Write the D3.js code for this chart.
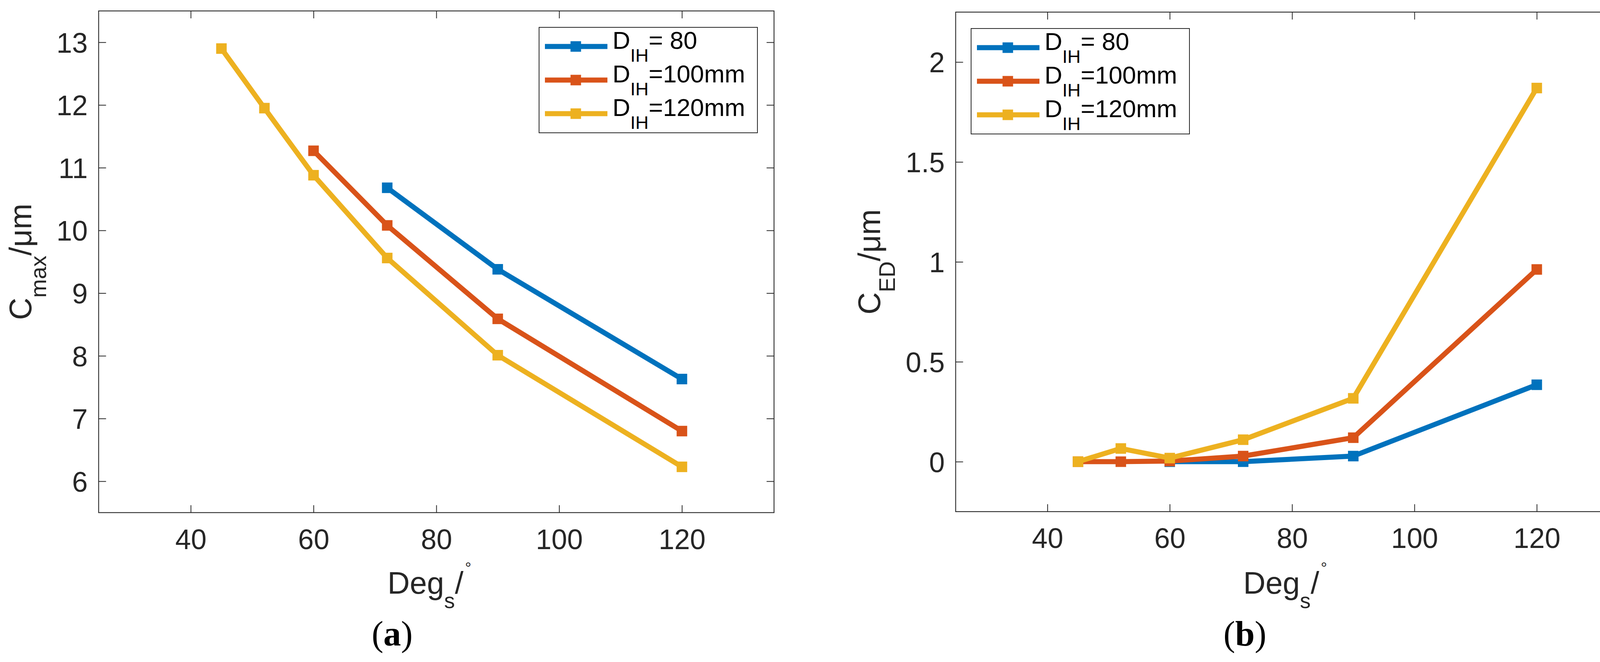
<!DOCTYPE html>
<html>
<head>
<meta charset="utf-8">
<script src="https://cdn.jsdelivr.net/npm/d3@7"></script>
<style>
  body { margin: 0; background: #fff; }
  text { font-family: "Liberation Sans", Arial, sans-serif; }
</style>
</head>
<body>
<svg id="fig" width="4201" height="1695"></svg>
<script>
// x ticks shared by both panels
var degTicks = [40, 60, 80, 100, 120];

// panel (a): C_max
var degBlueA = [72, 90, 120];
var cmaxBlue = [10.68, 9.38, 7.63];
var degOrangeA = [60, 72, 90, 120];
var cmaxOrange = [11.27, 10.08, 8.59, 6.80];
var degYellowA = [45, 52, 60, 72, 90, 120];
var cmaxYellow = [12.90, 11.95, 10.88, 9.56, 8.01, 6.23];
var cmaxTicks = [6, 7, 8, 9, 10, 11, 12, 13];

// panel (b): C_ED
var degBlueB = [60, 72, 90, 120];
var cedBlue = [0, 0, 0.028, 0.385];
var degOrangeB = [45, 52, 60, 72, 90, 120];
var cedOrange = [0, 0, 0.003, 0.028, 0.12, 0.962];
var degYellowB = [45, 52, 60, 72, 90, 120];
var cedYellow = [0, 0.066, 0.018, 0.11, 0.317, 1.87];
var cedTicks = [0, 0.5, 1, 1.5, 2];

var legendNames = ['= 80', '=100mm', '=120mm'];
var colors = ['#0072BD', '#D95319', '#EDB120'];

var svg = d3.select('#fig');
var axisColor = '#262626';
var tickLen = 19;

function panel(opt) {
    var g = svg.append('g');
    var x = d3.scaleLinear().domain([25, 135]).range([opt.left, opt.right]);
    var y = d3.scaleLinear().domain(opt.ydom).range([opt.bottom, opt.top]);

    // ticks, inward on all four sides (box on)
    var xBottom = d3.axisBottom(x).tickValues(degTicks).tickSize(-tickLen).tickFormat(d3.format('d'));
    var xTop = d3.axisTop(x).tickValues(degTicks).tickSize(-tickLen).tickFormat('');
    var yLeft = d3.axisLeft(y).tickValues(opt.yticks).tickSize(-tickLen).tickPadding(28)
        .tickFormat(function(d) { return String(d); });
    var yRight = d3.axisRight(y).tickValues(opt.yticks).tickSize(-tickLen).tickFormat('');

    var gxb = g.append('g').attr('transform', 'translate(0,' + opt.bottom + ')').call(xBottom);
    var gxt = g.append('g').attr('transform', 'translate(0,' + opt.top + ')').call(xTop);
    var gyl = g.append('g').attr('transform', 'translate(' + opt.left + ',0)').call(yLeft);
    var gyr = g.append('g').attr('transform', 'translate(' + opt.right + ',0)').call(yRight);

    [gxb, gxt, gyl, gyr].forEach(function(ag) {
        ag.select('.domain').remove();
        ag.selectAll('line').attr('stroke', axisColor).attr('stroke-width', 2);
        ag.selectAll('text').attr('fill', axisColor).style('font-size', '72px')
            .style('font-family', '"Liberation Sans", Arial, sans-serif');
    });
    gxb.selectAll('text').attr('dy', null).attr('y', 93);
    gyl.selectAll('text').attr('dy', '0.36em');

    g.append('rect')
        .attr('x', opt.left).attr('y', opt.top)
        .attr('width', opt.right - opt.left).attr('height', opt.bottom - opt.top)
        .attr('fill', 'none').attr('stroke', axisColor).attr('stroke-width', 2.2);

    var line = d3.line().x(function(d) { return x(d[0]); }).y(function(d) { return y(d[1]); });
    opt.series.forEach(function(s, i) {
        var pts = d3.zip(s.x, s.y);
        g.append('path').datum(pts)
            .attr('d', line)
            .attr('fill', 'none')
            .attr('stroke', colors[i])
            .attr('stroke-width', 13)
            .attr('stroke-linejoin', 'round');
        g.selectAll(null).data(pts).enter().append('rect')
            .attr('x', function(d) { return x(d[0]) - 13.5; })
            .attr('y', function(d) { return y(d[1]) - 13.5; })
            .attr('width', 27).attr('height', 27)
            .attr('fill', colors[i]);
    });

    // x label: Deg_s/°
    var cx = (opt.left + opt.right) / 2;
    var xl = g.append('text')
        .attr('x', cx - 125).attr('y', 1520)
        .attr('fill', axisColor).style('font-size', '79px');
    xl.append('tspan').text('Deg');
    xl.append('tspan').attr('dy', 37).style('font-size', '55px').text('s');
    xl.append('tspan').attr('dy', -37).text('/');
    xl.append('tspan').attr('dy', -52).attr('dx', 4).style('font-size', '40px').text('°');

    // y label
    var yl = g.append('text')
        .attr('transform', 'translate(' + opt.ylabelX + ',' + ((opt.top + opt.bottom) / 2) + ') rotate(-90)')
        .attr('text-anchor', 'middle')
        .attr('fill', axisColor).style('font-size', '79px');
    yl.append('tspan').text('C');
    yl.append('tspan').attr('dy', 38).style('font-size', '57px').text(opt.ysub);
    yl.append('tspan').attr('dy', -38).text('/μm');

    // legend
    var lg = g.append('g').attr('transform', 'translate(' + opt.legX + ',' + opt.legY + ')');
    lg.append('rect').attr('width', 559).attr('height', 270)
        .attr('fill', '#fff').attr('stroke', axisColor).attr('stroke-width', 2);
    legendNames.forEach(function(name, i) {
        var ly = 49 + i * 86;
        lg.append('line').attr('x1', 15).attr('x2', 175).attr('y1', ly).attr('y2', ly)
            .attr('stroke', colors[i]).attr('stroke-width', 13);
        lg.append('rect').attr('x', 94 - 13.5).attr('y', ly - 13.5)
            .attr('width', 27).attr('height', 27).attr('fill', colors[i]);
        var t = lg.append('text').attr('x', 188).attr('y', ly + 6)
            .attr('fill', '#000').style('font-size', '63px');
        t.append('tspan').text('D');
        t.append('tspan').attr('dy', 33).style('font-size', '47px').text('IH');
        t.append('tspan').attr('dy', -33).text(name);
    });

    // panel tag
    var tag = svg.append('text').attr('x', opt.tagX).attr('y', 1653)
        .attr('text-anchor', 'middle')
        .style('font-family', '"Liberation Serif", "Times New Roman", serif')
        .style('font-size', '90px').attr('fill', '#000');
    tag.append('tspan').text('(');
    tag.append('tspan').style('font-weight', 'bold').text(opt.tag);
    tag.append('tspan').text(')');
}

panel({
    left: 252.5, right: 1981.5, top: 28, bottom: 1312.5,
    ydom: [5.5, 13.5], yticks: cmaxTicks, ysub: 'max', ylabelX: 80,
    legX: 1380, legY: 70, tag: 'a', tagX: 1004,
    series: [
        { x: degBlueA, y: cmaxBlue },
        { x: degOrangeA, y: cmaxOrange },
        { x: degYellowA, y: cmaxYellow }
    ]
});

panel({
    left: 2446.5, right: 4169, top: 31, bottom: 1310,
    ydom: [-0.25, 2.25], yticks: cedTicks, ysub: 'ED', ylabelX: 2253,
    legX: 2486, legY: 73, tag: 'b', tagX: 3187,
    series: [
        { x: degBlueB, y: cedBlue },
        { x: degOrangeB, y: cedOrange },
        { x: degYellowB, y: cedYellow }
    ]
});
</script>
</body>
</html>
